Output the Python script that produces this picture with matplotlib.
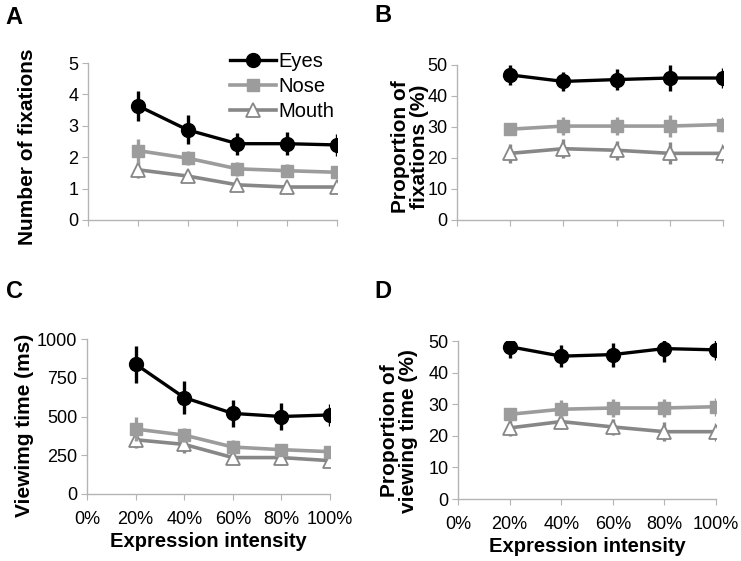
import matplotlib
matplotlib.use("Agg")
import matplotlib.pyplot as plt

plt.rcParams['font.family'] = ['Liberation Sans', 'DejaVu Sans']

intensity = [20, 40, 60, 80, 100]
xtick_vals = [0, 20, 40, 60, 80, 100]
xtick_labels = ['0%', '20%', '40%', '60%', '80%', '100%']

# Panel A: number of fixations
a_eyes = [3.64, 2.87, 2.43, 2.43, 2.39]
a_eyes_err = [0.48, 0.46, 0.35, 0.36, 0.35]
a_nose = [2.21, 1.97, 1.63, 1.57, 1.52]
a_nose_err = [0.38, 0.22, 0.23, 0.2, 0.2]
a_mouth = [1.6, 1.4, 1.12, 1.05, 1.05]
a_mouth_err = [0.25, 0.12, 0.12, 0.1, 0.1]

# Panel B: proportion of fixations (%)
b_eyes = [46.8, 44.7, 45.3, 45.8, 45.8]
b_eyes_err = [3.2, 3.2, 3.5, 4.3, 3.2]
b_nose = [29.3, 30.3, 30.3, 30.3, 30.8]
b_nose_err = [1.9, 3.0, 3.0, 3.5, 2.5]
b_mouth = [21.5, 23.0, 22.5, 21.5, 21.5]
b_mouth_err = [3.0, 3.0, 3.0, 3.5, 3.0]

# Panel C: viewing time (ms)
c_eyes = [838, 622, 520, 500, 510]
c_eyes_err = [120, 105, 85, 85, 70]
c_nose = [419, 380, 303, 286, 273]
c_nose_err = [75, 45, 45, 35, 30]
c_mouth = [350, 320, 235, 235, 215]
c_mouth_err = [55, 55, 30, 45, 25]

# Panel D: proportion of viewing time (%)
d_eyes = [48.2, 45.2, 45.7, 47.6, 47.2]
d_eyes_err = [3.5, 3.5, 3.8, 4.3, 3.3]
d_nose = [26.8, 28.4, 28.8, 28.8, 29.2]
d_nose_err = [2.0, 2.8, 3.0, 3.0, 2.8]
d_mouth = [22.5, 24.5, 22.8, 21.3, 21.3]
d_mouth_err = [2.5, 2.5, 2.5, 3.0, 2.8]

series_names = ['Eyes', 'Nose', 'Mouth']

EYE_C = '#000000'
NOSE_C = '#9c9c9c'
MOUTH_C = '#878787'
SPINE_C = '#b4b4b4'

fig = plt.figure(figsize=(7.41, 5.61), dpi=100)

panels = [
    ('A', [88/741, 1-220/561, 249/741, 157/561], (a_eyes, a_eyes_err, a_nose, a_nose_err, a_mouth, a_mouth_err),
     (0, 5), [0, 1, 2, 3, 4, 5], 'Number of fixations', False, (-0.241, 0.465)),
    ('B', [457/741, 1-220/561, 266/741, 155/561], (b_eyes, b_eyes_err, b_nose, b_nose_err, b_mouth, b_mouth_err),
     (0, 50), [0, 10, 20, 30, 40, 50], 'Proportion of\nfixations (%)', False, (-0.177, 0.471)),
    ('C', [87/741, 1-494/561, 243/741, 155/561], (c_eyes, c_eyes_err, c_nose, c_nose_err, c_mouth, c_mouth_err),
     (0, 1000), [0, 250, 500, 750, 1000], 'Viewimg time (ms)', True, (-0.259, 0.445)),
    ('D', [458/741, 1-499/561, 258/741, 158/561], (d_eyes, d_eyes_err, d_nose, d_nose_err, d_mouth, d_mouth_err),
     (0, 50), [0, 10, 20, 30, 40, 50], 'Proportion of\nviewing time (%)', True, (-0.229, 0.43)),
]

label_pos = {'A': (5, 6), 'B': (374, 4), 'C': (6, 280), 'D': (374, 280)}

for letter, rect, data, ylim, yticks, ylabel, show_x, lab_xy in panels:
    ax = fig.add_axes(rect)
    e, ee, n, ne, m, me = data
    ax.errorbar(intensity, m, yerr=me, color=MOUTH_C, lw=2.6, elinewidth=2.4, capsize=0,
                marker='^', ms=10, mfc='white', mec=MOUTH_C, mew=1.3, label='Mouth', zorder=3)
    ax.errorbar(intensity, n, yerr=ne, color=NOSE_C, lw=2.6, elinewidth=2.4, capsize=0,
                marker='s', ms=8, mfc=NOSE_C, mec=NOSE_C, label='Nose', zorder=4)
    ax.errorbar(intensity, e, yerr=ee, color=EYE_C, lw=2.4, elinewidth=2.4, capsize=0,
                marker='o', ms=10, mfc=EYE_C, mec=EYE_C, label='Eyes', zorder=5)
    ax.set_xlim(0, 100)
    ax.set_ylim(*ylim)
    ax.set_yticks(yticks)
    ax.set_xticks(xtick_vals)
    if show_x:
        ax.set_xticklabels(xtick_labels, fontsize=13)
        ax.set_xlabel('Expression intensity', fontsize=14.5, fontweight='bold', labelpad=3)
    else:
        ax.set_xticklabels([])
    ax.tick_params(axis='y', labelsize=13, length=4, color=SPINE_C, pad=3)
    ax.tick_params(axis='x', length=4, color=SPINE_C, pad=8)
    for s in ['top', 'right']:
        ax.spines[s].set_visible(False)
    for s in ['left', 'bottom']:
        ax.spines[s].set_color(SPINE_C)
        ax.spines[s].set_linewidth(1.0)
    ax.set_ylabel(ylabel, fontsize=15, fontweight='bold', linespacing=1.0, va='center')
    ax.yaxis.set_label_coords(*lab_xy)
    ax.patch.set_alpha(0)
    lx, ly = label_pos[letter]
    fig.text(lx/741, 1-ly/561, letter, fontsize=17, fontweight='bold', va='top', ha='left')
    if letter == 'A':
        handles, labels = ax.get_legend_handles_labels()
        order = [labels.index(nm) for nm in series_names]
        ax.legend([handles[i][0] for i in order], [labels[i] for i in order],
                  loc='upper right', bbox_to_anchor=(1.02, 1.12), frameon=False, fontsize=14.5,
                  handlelength=2.3, handletextpad=0.1, labelspacing=0.3, borderaxespad=0.0)

fig.savefig('out.png', dpi=100)
